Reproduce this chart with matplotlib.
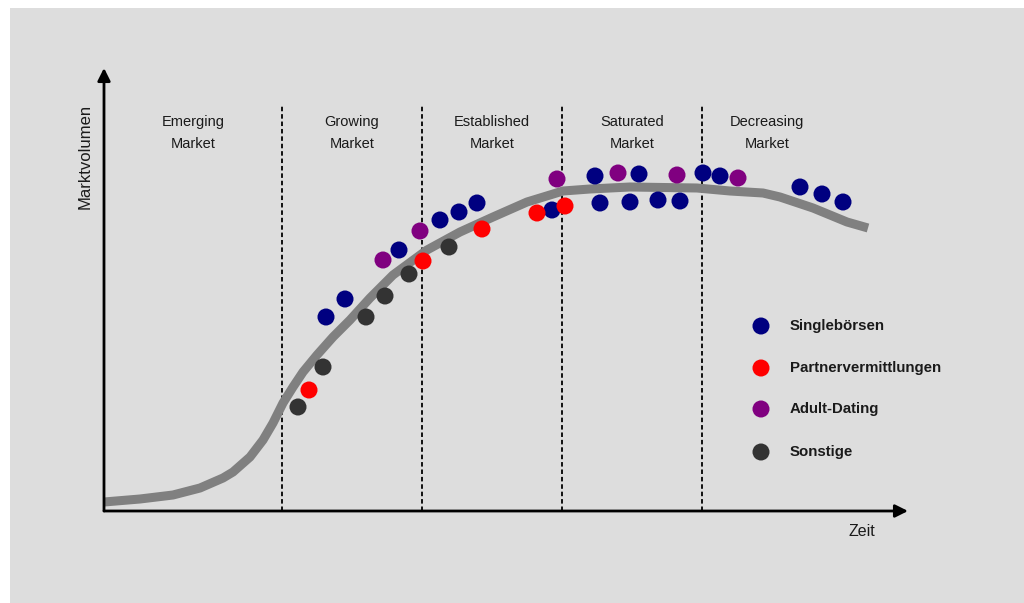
import matplotlib
matplotlib.use("Agg")
import matplotlib.pyplot as plt
from matplotlib.patches import Rectangle

# ---- data (time units along x, volume units along y) ----
curve_t = [0, 36, 69, 96, 119, 129, 146, 159, 169, 179, 189, 199, 213, 229, 246, 266,
           289, 323, 356, 389, 423, 459, 486, 526, 593, 626, 659, 676, 709, 726, 743, 764]
curve_v = [9, 12, 16, 23, 33, 39, 54, 71, 88, 108, 124, 139, 156, 174, 191, 213,
           236, 261, 279, 294, 309, 320, 322, 324, 323, 320, 318, 314, 303, 296, 289, 283]

single_t = [222, 241, 295, 336, 355, 373, 448, 491, 535, 496, 526, 554, 576, 599, 616, 696, 718, 739]
single_v = [194, 212, 261, 291, 299, 308, 301, 335, 337, 308, 309, 311, 310, 338, 335, 324, 317, 309]

partner_t = [205, 319, 378, 433, 461]
partner_v = [121, 250, 282, 298, 305]

adult_t = [279, 316, 453, 514, 573, 634]
adult_v = [251, 280, 332, 338, 336, 333]

other_t = [194, 219, 262, 281, 305, 345]
other_v = [104, 144, 194, 215, 237, 264]

phase_bounds = [178, 318, 458, 598]
phase_labels = ["Emerging\nMarket", "Growing\nMarket", "Established\nMarket",
                "Saturated\nMarket", "Decreasing\nMarket"]
phase_label_t = [89, 248, 388, 528, 663]

series_names = ["Singlebörsen", "Partnervermittlungen", "Adult-Dating", "Sonstige"]
series_colors = ["#000080", "#ff0000", "#800080", "#333333"]

FONT = ["Liberation Sans", "DejaVu Sans"]
plt.rcParams["font.family"] = FONT

W, H = 1024, 603
fig = plt.figure(figsize=(W / 100, H / 100), dpi=100)
fig.patch.set_facecolor("white")
fig.patches.append(Rectangle((10 / W, 0), 1 - 10 / W, 1 - 8 / H,
                             transform=fig.transFigure, facecolor="#dddddd",
                             edgecolor="none", zorder=-10))

x0, y0 = 104, 511
xmax, ytop = 908, 68
ax = fig.add_axes([x0 / W, (H - y0) / H, (xmax - x0) / W, (y0 - ytop) / H])
ax.set_xlim(0, xmax - x0)
ax.set_ylim(0, y0 - ytop)
ax.axis("off")
ax.patch.set_alpha(0)

# axes arrows
arrow_kw = dict(arrowstyle="-|>", lw=2, color="black", mutation_scale=19,
                shrinkA=0, shrinkB=0)
ax.annotate("", xy=(0, 1), xytext=(0, 0), xycoords="axes fraction",
            textcoords="axes fraction", arrowprops=arrow_kw, annotation_clip=False)
ax.annotate("", xy=(1, 0), xytext=(0, 0), xycoords="axes fraction",
            textcoords="axes fraction", arrowprops=arrow_kw, annotation_clip=False)

# phase separators
for b in phase_bounds:
    ax.plot([b, b], [0, 406], color="black", lw=1.3, linestyle=(0, (2.5, 1.6)),
            zorder=1, clip_on=False)

for lab, t in zip(phase_labels, phase_label_t):
    ax.text(t, 378, lab, ha="center", va="center", fontsize=10.5,
            color="#1a1a1a", linespacing=1.75)

# curve
ax.plot(curve_t, curve_v, color="#808080", lw=6.5, solid_joinstyle="round",
        solid_capstyle="butt", zorder=2, clip_on=False)

# dots
ms = 150
for tt, vv, c in [(single_t, single_v, series_colors[0]),
                  (partner_t, partner_v, series_colors[1]),
                  (adult_t, adult_v, series_colors[2]),
                  (other_t, other_v, series_colors[3])]:
    ax.scatter(tt, vv, s=ms, color=c, edgecolors="none", zorder=3, clip_on=False)

# legend
leg_v = [185, 143, 102, 59]
for name, c, v in zip(series_names, series_colors, leg_v):
    ax.scatter([657], [v], s=ms, color=c, edgecolors="none", zorder=3, clip_on=False)
    ax.text(686, v, name, ha="left", va="center", fontsize=10.8,
            fontweight="bold", color="#1a1a1a")

ax.text(-19, 355, "Marktvolumen", rotation=90, ha="center", va="center",
        fontsize=12, color="#1a1a1a")
ax.text(758, -21, "Zeit", ha="center", va="center", fontsize=11.5, color="#1a1a1a")

fig.savefig("out.png", dpi=100, facecolor=fig.get_facecolor())
